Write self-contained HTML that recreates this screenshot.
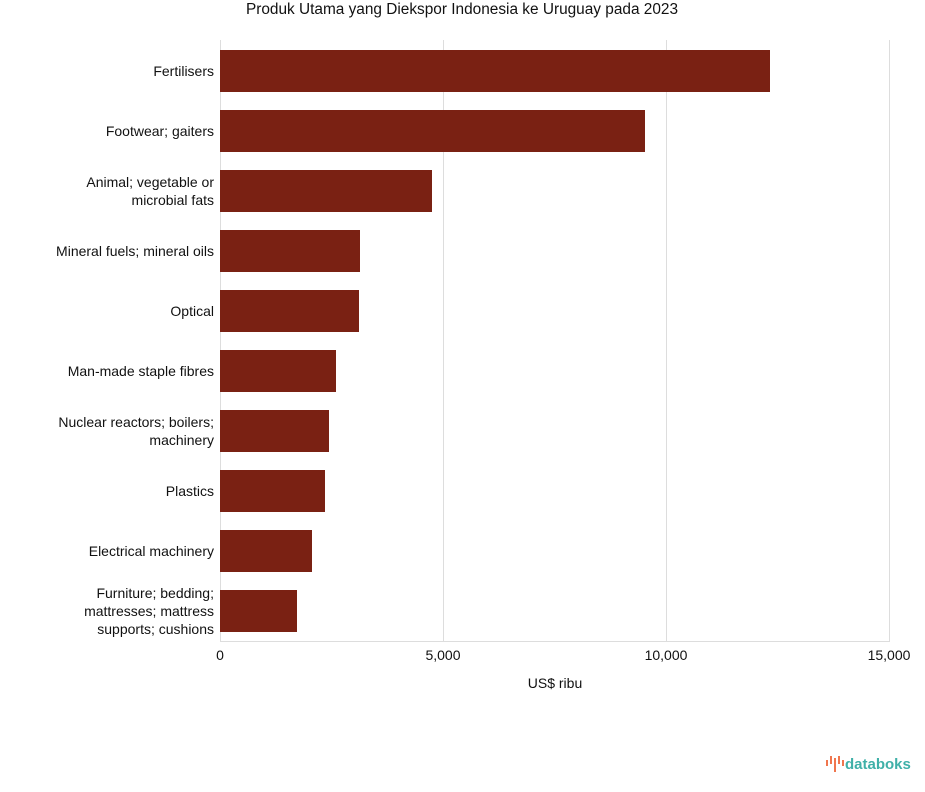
<!DOCTYPE html>
<html><head><meta charset="utf-8"><style>body{margin:0;background:#fff}svg{display:block}text{font-family:"Liberation Sans",Arial,sans-serif;fill:#111}</style></head>
<body>
<svg width="925" height="792" viewBox="0 0 925 792">
<text x="462" y="14" font-size="15.4" text-anchor="middle">Produk Utama yang Diekspor Indonesia ke Uruguay pada 2023</text>
<g stroke="#dddddd" stroke-width="1">
<line x1="220.5" y1="40" x2="220.5" y2="641"/>
<line x1="443.5" y1="40" x2="443.5" y2="641"/>
<line x1="666.5" y1="40" x2="666.5" y2="641"/>
<line x1="889.5" y1="40" x2="889.5" y2="641"/>
<line x1="220" y1="641.5" x2="890" y2="641.5"/>
</g>
<g fill="#7a2113">
<rect x="220" y="50" width="550" height="42"/>
<rect x="220" y="110" width="425" height="42"/>
<rect x="220" y="170" width="212" height="42"/>
<rect x="220" y="230" width="140" height="42"/>
<rect x="220" y="290" width="139" height="42"/>
<rect x="220" y="350" width="116" height="42"/>
<rect x="220" y="410" width="109" height="42"/>
<rect x="220" y="470" width="105" height="42"/>
<rect x="220" y="530" width="92" height="42"/>
<rect x="220" y="590" width="77" height="42"/>
</g>
<g font-size="14" text-anchor="end">
<text x="214" y="76">Fertilisers</text>
<text x="214" y="136">Footwear; gaiters</text>
<text x="214" y="187">Animal; vegetable or</text>
<text x="214" y="205">microbial fats</text>
<text x="214" y="256">Mineral fuels; mineral oils</text>
<text x="214" y="316">Optical</text>
<text x="214" y="376">Man-made staple fibres</text>
<text x="214" y="427">Nuclear reactors; boilers;</text>
<text x="214" y="445">machinery</text>
<text x="214" y="496">Plastics</text>
<text x="214" y="556">Electrical machinery</text>
<text x="214" y="598">Furniture; bedding;</text>
<text x="214" y="616">mattresses; mattress</text>
<text x="214" y="634">supports; cushions</text>
</g>
<g font-size="14" text-anchor="middle">
<text x="220" y="660">0</text>
<text x="443" y="660">5,000</text>
<text x="666" y="660">10,000</text>
<text x="889" y="660">15,000</text>
<text x="555" y="688">US$ ribu</text>
</g>
<g fill="#f0764e">
<rect x="826" y="760" width="2" height="6"/>
<rect x="830" y="756" width="2" height="8"/>
<rect x="834" y="758" width="2" height="14"/>
<rect x="838" y="756" width="2" height="8"/>
<rect x="842" y="760" width="2" height="6"/>
</g>
<text x="845" y="769" font-size="15" style="fill:#3fb0a8" font-weight="bold">databoks</text>
</svg>
</body></html>
